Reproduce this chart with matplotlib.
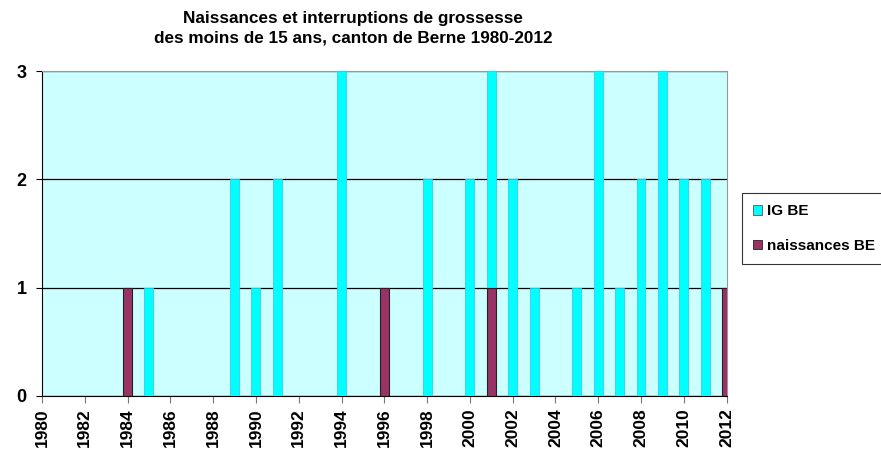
import numpy as np
import matplotlib.pyplot as plt
from matplotlib.patches import Patch

plt.rcParams['font.family'] = ['Liberation Sans', 'DejaVu Sans']

years = list(range(1980, 2013))
ig_be = [0, 0, 0, 0, 0, 1, 0, 0, 0, 2, 1, 2, 0, 0, 3, 0, 0, 0, 2, 0, 2,
         3, 2, 1, 0, 1, 3, 1, 2, 3, 2, 2, 0]
naissances_be = [0, 0, 0, 0, 1, 0, 0, 0, 0, 0, 0, 0, 0, 0, 0, 0, 1, 0, 0, 0, 0,
                 1, 0, 0, 0, 0, 0, 0, 0, 0, 0, 0, 1]
labels = ['IG BE', 'naissances BE']
title = 'Naissances et interruptions de grossesse\ndes moins de 15 ans, canton de Berne 1980-2012'

cyan = '#00FFFF'
maroon = '#993366'

fig = plt.figure(figsize=(8.81, 4.57), dpi=100)
ax = fig.add_axes([0.0477, 0.1335, 0.777, 0.711])
ax.set_facecolor('#CCFFFF')

x = np.array(years)
ig = np.array(ig_be)
nb = np.array(naissances_be)
w = 0.42
ax.bar(x[ig > 0], ig[ig > 0], width=w, color=cyan, edgecolor='#33CCEE', linewidth=0.6, zorder=3)
ax.bar(x[nb > 0], nb[nb > 0], width=w, color=maroon, edgecolor='#222222', linewidth=0.8, zorder=4)

ax.set_xlim(1980, 2012)
ax.set_ylim(0, 3)
ax.set_yticks([0, 1, 2, 3])
ax.set_xticks(years[::2])
ax.set_xticklabels([str(y) for y in years[::2]], rotation=90, fontsize=12.5, fontweight='bold')
ax.set_yticklabels(['0', '1', '2', '3'], fontsize=13, fontweight='bold')
ax.yaxis.grid(True, color='black', linewidth=0.9, zorder=1)
ax.set_axisbelow(True)
ax.tick_params(axis='x', length=5, color='#777777', pad=4)
ax.tick_params(axis='y', length=4, color='black', pad=7)

for side in ['top', 'right']:
    ax.spines[side].set_color('#999999')
    ax.spines[side].set_linewidth(0.8)
ax.spines['left'].set_color('black')
ax.spines['bottom'].set_color('black')

fig.text(0.401, 0.975, title, ha='center', va='top', fontsize=12.3, fontweight='bold',
         linespacing=1.3)

handles = [Patch(facecolor=cyan, edgecolor='#555555', linewidth=0.6),
           Patch(facecolor=maroon, edgecolor='#222222', linewidth=0.6)]
leg = fig.legend(handles, labels, loc='upper left', bbox_to_anchor=(0.842, 0.578),
                 prop={'size': 11, 'weight': 'bold'}, fancybox=False, frameon=True,
                 handlelength=0.6, handleheight=0.6, handletextpad=0.3,
                 labelspacing=1.35, borderpad=0.75, borderaxespad=0)
leg.get_frame().set_edgecolor('black')
leg.get_frame().set_linewidth(0.8)

fig.savefig('out.png', dpi=100)
